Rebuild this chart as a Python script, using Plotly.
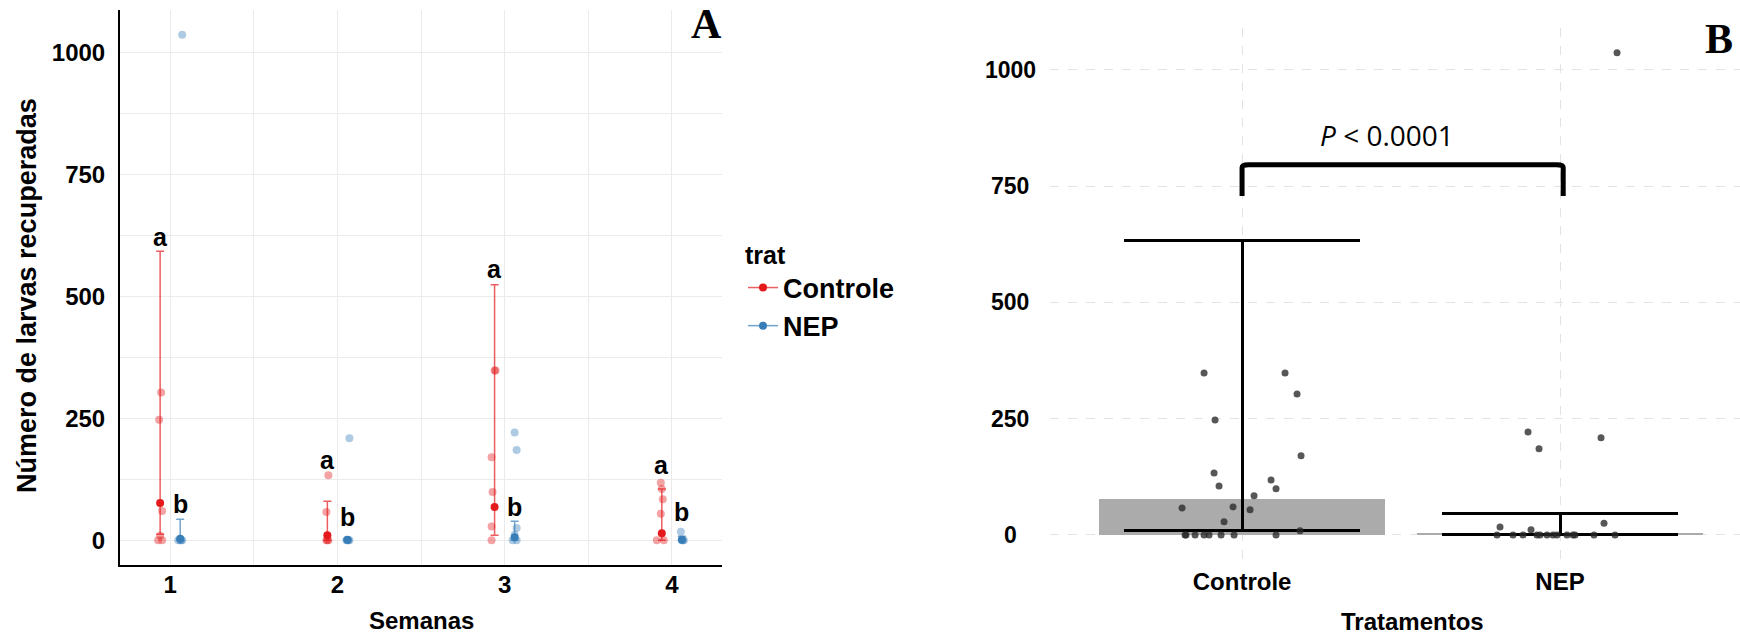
import plotly.graph_objects as go

# ---------------- Panel A: larvae recovered per week ----------------
weeks = [1, 2, 3, 4]
week_labels = ["1", "2", "3", "4"]

ctrl_points = [
    [303, 247, 60, 0, 0, 9],
    [133, 58, 0, 0, 0],
    [348, 348, 170, 99, 28, 0],
    [118, 105, 84, 54, 0, 0],
]
nep_points = [
    [1037, 0, 0, 0, 0],
    [209, 0, 0, 0, 0],
    [221, 185, 25, 11, 0, 0],
    [17, 0, 0, 0],
]

ctrl_mean = [76, 10, 68, 14]
ctrl_low = [12, 0, 10, 0]
ctrl_high = [593, 80, 524, 105]
nep_mean = [3, 1, 6, 1]
nep_low = [0, 0, 0, 0]
nep_high = [43, 3, 39, 8]

ctrl_letters = ["a", "a", "a", "a"]
nep_letters = ["b", "b", "b", "b"]
ctrl_letter_y = [622, 164, 556, 154]
nep_letter_y = [74, 47, 68, 57]

# horizontal jitter of raw points (pixels)
ctrl_jit_a = [[1, -1, 2, -2, 2, 0], [1, -1, 0, 1, -1], [1, 0, -3, -2, -3, -3], [-1, 0, 1, -1, -5, 2]]
nep_jit_a = [[2, -2, 0, 1, 2], [2, -1, 0, 1, 2], [0, 2, 2, 0, -2, 2], [-1, 0, 2, 1]]

# ---------------- Panel B: totals per treatment ----------------
b_cats = ["Controle", "NEP"]
b_bar = [77, 4]
b_err_low = [9, 0]
b_err_high = [632, 47]
ctrl_jit_b = [[55, -27, -9, -57, -56, 58], [-28, -60, -47, -38, -33],
              [-38, 43, 59, 34, -18, 34], [29, -23, 12, 8, -21, -8]]
nep_jit_b = [[57, -63, -47, -37, -23], [41, -20, -13, -7, -3],
             [-32, -21, 44, -29, 7, 13], [-60, 15, 34, 55]]
p_text = "<i>P</i> &lt; 0.0001"

W, H = 1740, 636
FONT = "Liberation Sans, Arial, sans-serif"
RED, BLUE = "#E41A1C", "#377EB8"
RED_A, BLUE_A = "rgba(228,26,28,0.4)", "rgba(55,126,184,0.4)"
RED_E, BLUE_E = "rgba(228,26,28,0.7)", "rgba(55,126,184,0.7)"
DODGE = 0.06
PX_A = 168.0   # pixels per week unit in panel A
PX_B = 318.0   # pixels per category unit in panel B

fig = go.Figure()

# raw points, panel A
for pts_list, jit_list, off, col in [(ctrl_points, ctrl_jit_a, -DODGE, RED_A),
                                     (nep_points, nep_jit_a, DODGE, BLUE_A)]:
    xs, ys = [], []
    for w, pts, jit in zip(weeks, pts_list, jit_list):
        for v, j in zip(pts, jit):
            xs.append(w + off + j / PX_A)
            ys.append(v)
    fig.add_trace(go.Scatter(x=xs, y=ys, mode="markers", showlegend=False,
                             marker=dict(size=8, color=col, line=dict(width=0)),
                             xaxis="x", yaxis="y", hoverinfo="skip"))

# means with interval bars, panel A
for mean, lo, hi, off, col, ecol in [(ctrl_mean, ctrl_low, ctrl_high, -DODGE, RED, RED_E),
                                     (nep_mean, nep_low, nep_high, DODGE, BLUE, BLUE_E)]:
    fig.add_trace(go.Scatter(
        x=[w + off for w in weeks], y=mean, mode="markers", showlegend=False,
        marker=dict(size=8, color=col),
        error_y=dict(type="data", symmetric=False,
                     array=[h - m for h, m in zip(hi, mean)],
                     arrayminus=[m - l for m, l in zip(mean, lo)],
                     color=ecol, thickness=1.5, width=4),
        xaxis="x", yaxis="y"))

# legend entries
for name, col, ecol in [("Controle", RED, RED_E), ("NEP", BLUE, BLUE_E)]:
    fig.add_trace(go.Scatter(x=[None], y=[None], mode="lines+markers", name=name,
                             line=dict(color=ecol, width=1.5),
                             marker=dict(size=8, color=col),
                             xaxis="x", yaxis="y"))

# bars with interval, panel B
fig.add_trace(go.Bar(
    x=[1, 2], y=b_bar, width=0.9, marker=dict(color="#ABABAB", line=dict(width=0)),
    showlegend=False, xaxis="x2", yaxis="y2",
    error_y=dict(type="data", symmetric=False,
                 array=[h - b for h, b in zip(b_err_high, b_bar)],
                 arrayminus=[b - l for b, l in zip(b_bar, b_err_low)],
                 color="black", thickness=3, width=118)))

# jittered raw points, panel B
for cat, pts_list, jit_list in [(1, ctrl_points, ctrl_jit_b), (2, nep_points, nep_jit_b)]:
    xs, ys = [], []
    for pts, jit in zip(pts_list, jit_list):
        for v, j in zip(pts, jit):
            xs.append(cat + j / PX_B)
            ys.append(v)
    fig.add_trace(go.Scatter(x=xs, y=ys, mode="markers", showlegend=False,
                             marker=dict(size=7, color="rgba(40,40,40,0.78)", line=dict(width=0)),
                             xaxis="x2", yaxis="y2", hoverinfo="skip"))

annotations = []
bold = dict(family=FONT, color="black", weight="bold")
C = dict(xanchor="center", yanchor="middle", showarrow=False)

for w, lab, y in zip(weeks, ctrl_letters, ctrl_letter_y):
    annotations.append(dict(x=w - DODGE, y=y, xref="x", yref="y", text=lab,
                            font=dict(size=25, **bold), **C))
for w, lab, y in zip(weeks, nep_letters, nep_letter_y):
    annotations.append(dict(x=w + DODGE, y=y, xref="x", yref="y", text=lab,
                            font=dict(size=25, **bold), **C))

# axis titles
annotations.append(dict(x=27 / W, y=1 - 296 / H, xref="paper", yref="paper",
                        text="Número de larvas recuperadas", textangle=-90,
                        font=dict(size=27, **bold), **C))
annotations.append(dict(x=421 / W, y=1 - 620 / H, xref="paper", yref="paper",
                        text="Semanas", font=dict(size=24, **bold), **C))
annotations.append(dict(x=1412 / W, y=1 - 621 / H, xref="paper", yref="paper",
                        text="Tratamentos", font=dict(size=24, **bold), **C))

# panel B y tick labels (centered)
for v in [0, 250, 500, 750, 1000]:
    annotations.append(dict(x=1010 / W, y=v, xref="paper", yref="y2", text=str(v),
                            font=dict(size=23, **bold), **C))

# significance text
annotations.append(dict(x=1.456, y=860, xref="x2", yref="y2", text=p_text,
                        font=dict(family="Open Sans, sans-serif", size=28, color="black"), **C))

# panel letters
annotations.append(dict(x=706 / W, y=1 - 24 / H, xref="paper", yref="paper", text="A",
                        font=dict(family="Liberation Serif, serif", size=42,
                                  color="black", weight="bold"), **C))
annotations.append(dict(x=1719 / W, y=1 - 39 / H, xref="paper", yref="paper", text="B",
                        font=dict(family="Liberation Serif, serif", size=42,
                                  color="black", weight="bold"), **C))

shapes = [dict(type="path", xref="x2", yref="y2",
               path="M 1,729 L 1,790 Q 1,796 1.02,796 L 1.99,796 Q 2.01,796 2.01,790 L 2.01,729",
               line=dict(color="black", width=5))]

GRID = "#EBEBEB"
fig.update_layout(
    width=W, height=H, margin=dict(l=0, r=0, t=0, b=0),
    paper_bgcolor="white", plot_bgcolor="white",
    font=dict(family=FONT, color="black"),
    xaxis=dict(domain=[120 / W, 722 / W], range=[0.7, 4.3], anchor="y",
               tickvals=weeks, ticktext=week_labels, ticks="",
               showgrid=True, gridcolor=GRID, gridwidth=1,
               minor=dict(tickvals=[1.5, 2.5, 3.5], showgrid=True, gridcolor=GRID, gridwidth=1),
               showline=True, linecolor="black", linewidth=2, zeroline=False,
               tickfont=dict(size=24, **bold), ticklabelstandoff=-3),
    yaxis=dict(domain=[1 - 565 / H, 1 - 10 / H], range=[-51, 1088], anchor="x",
               tickvals=[0, 250, 500, 750, 1000], ticks="",
               showgrid=True, gridcolor=GRID, gridwidth=1,
               minor=dict(tickvals=[125, 375, 625, 875], showgrid=True, gridcolor=GRID, gridwidth=1),
               showline=True, linecolor="black", linewidth=2, zeroline=False,
               tickfont=dict(size=24, **bold), ticklabelstandoff=8),
    xaxis2=dict(domain=[1050 / W, 1.0], range=[0.396, 2.566], anchor="y2",
                tickvals=[1, 2], ticktext=b_cats, ticks="",
                showgrid=True, gridcolor="#E3E3E3", griddash="dash", gridwidth=1,
                showline=False, zeroline=False,
                tickfont=dict(size=24, **bold), ticklabelstandoff=5),
    yaxis2=dict(domain=[1 - 560 / H, 1 - 28 / H], range=[-54, 1090], anchor="x2",
                tickvals=[0, 250, 500, 750, 1000], showticklabels=False, ticks="",
                showgrid=True, gridcolor="#E3E3E3", griddash="dash", gridwidth=1,
                showline=False, zeroline=False),
    legend=dict(x=743 / W, y=1 - 231 / H, xanchor="left", yanchor="top",
                title=dict(text="trat", font=dict(size=25, **bold)),
                font=dict(size=27, **bold), bgcolor="rgba(0,0,0,0)",
                tracegroupgap=0, itemwidth=30),
    annotations=annotations, shapes=shapes, bargap=0,
)

fig.write_html("out.html")
